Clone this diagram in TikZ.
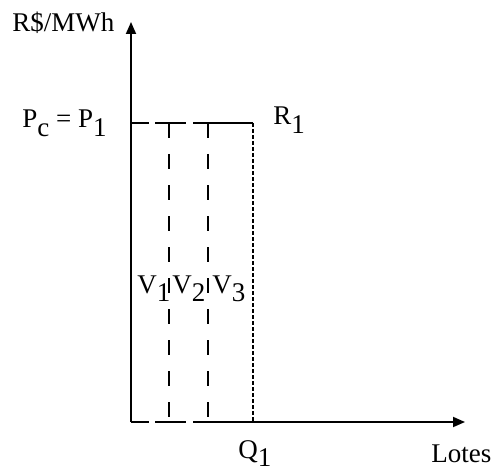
\documentclass[tikz,border=0pt]{standalone}
\usepackage{fontspec}
\setmainfont{Liberation Serif}
\usetikzlibrary{arrows.meta,positioning}
\newcommand{\lowsub}[1]{\raisebox{-0.3em}{#1}}
\tikzset{
    axis/.style={-{Triangle[length=6pt,width=5pt]},line width=0.9pt,draw=black},
    border/.style={line width=0.9pt,draw=black,
        dash pattern=on 9pt off 3pt on 15.5pt off 3.5pt on 200pt},
    guide/.style={line width=0.9pt,draw=black,dash pattern=on 7.5pt off 8pt},
    qline/.style={line width=1.1pt,draw=black,dash pattern=on 2pt off 1pt},
    lbl/.style={inner sep=0pt,anchor=base west,font=\fontsize{13.5}{16}\selectfont}
}

\begin{document}
\begin{tikzpicture}[x=0.5pt,y=-0.5pt]
\useasboundingbox (0,0) rectangle (491,470);

% axes and the lot
\coordinate (o) at (131,422);
\coordinate (ytip) at (131,22);
\coordinate (xtip) at (465,422);
\coordinate (pc) at (131,123);
\coordinate (r1) at (253,123);
\coordinate (q1) at (253,422);
\coordinate (v1top) at (169,123);
\coordinate (v1bot) at (169,422);
\coordinate (v2top) at (208,123);
\coordinate (v2bot) at (208,422);

\draw[axis] (o) -- (ytip);
\draw[border,axis] (o) -- (xtip);
\draw[border] (pc) -- (r1);
\draw[guide] (v1top) -- (v1bot);
\draw[guide] (v2top) -- (v2bot);
\draw[qline] (r1) -- (q1);

% labels
\node[lbl] (yl) at (12,32) {R\$/MWh};
\node[lbl] (price) at (22,128) {P\lowsub{c} = P\lowsub{1}};
\node[lbl] (r1l) at (273,125) {R\lowsub{1}};
\node[lbl] (v1) at (137,293) {V\lowsub{1}};
\node[lbl] (v2) at (172,293) {V\lowsub{2}};
\node[lbl] (v3) at (212,293) {V\lowsub{3}};
\node[lbl] (q1l) at (238,458) {Q\lowsub{1}};
\node[lbl] (xl) at (431,462) {Lotes};

\end{tikzpicture}
\end{document}
